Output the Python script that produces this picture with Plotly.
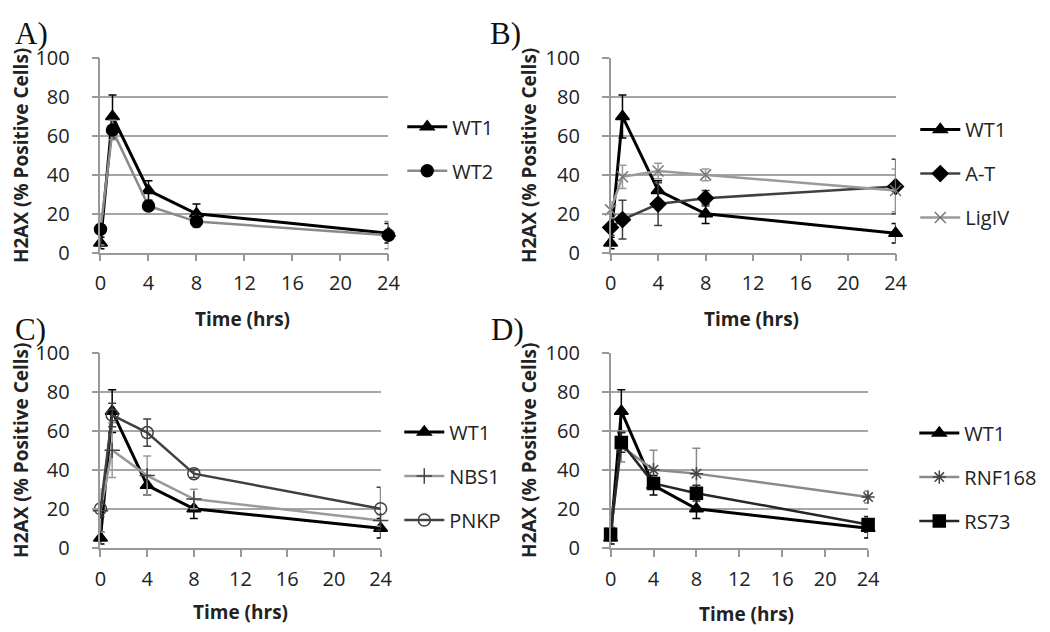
import plotly.graph_objects as go

times = [0, 1, 4, 8, 24]
x_ticks = [0, 4, 8, 12, 16, 20, 24]
y_ticks = [0, 20, 40, 60, 80, 100]

wt1 = [5, 70, 32, 20, 10]
wt1_err = [3, 11, 5, 5, 5]
wt2 = [12, 63, 24, 16, 9]
wt2_err = [8, 5, 2, 3, 7]
at = [13, 17, 25, 28, 34]
at_err = [4, 10, 11, 4, 14]
ligiv = [22, 39, 42, 40, 32]
ligiv_err = [4, 6, 4, 3, 11]
nbs1 = [19, 50, 37, 25, 14]
nbs1_err = [11, 14, 10, 5, 3]
pnkp = [20, 68, 59, 38, 20]
pnkp_err = [4, 6, 7, 2, 11]
rnf168 = [8, 52, 40, 38, 26]
rnf168_err = [3, 8, 10, 13, 3]
rs73 = [7, 54, 33, 28, 12]
rs73_err = [3, 5, 3, 4, 4]

W, H = 1050, 632
FONT = "Open Sans"

def px(v):
    return v / W

def py(v):
    return 1 - v / H

# panel pixel boxes: (x0, x1, ytop, ybottom)
panels = {
    "A": (88, 381, 37.7, 241),
    "B": (607, 897, 37.7, 241),
    "C": (88, 373, 345.3, 549.3),
    "D": (607, 869, 345.3, 549.3),
}

fig = go.Figure()

def add(panel_idx, name, y, err, line_color, lw, symbol, msize, mcolor, mline=None):
    sfx = "" if panel_idx == 1 else str(panel_idx)
    fig.add_trace(go.Scatter(
        x=times, y=y, name=name, mode="lines+markers",
        xaxis="x" + sfx, yaxis="y" + sfx,
        legend="legend" + sfx, legendgroup=name + sfx,
        line=dict(color=line_color, width=lw),
        marker=dict(symbol=symbol, size=msize, color=mcolor,
                    line=dict(color=mline or mcolor, width=1.5)),
        error_y=dict(type="data", array=err, visible=True,
                     color=line_color, thickness=1.5, width=4),
        cliponaxis=False,
    ))

# Panel A
add(1, "WT1", wt1, wt1_err, "#000000", 3, "triangle-up", 12, "#000000")
add(1, "WT2", wt2, wt2_err, "#8a8a8a", 2.5, "circle", 12, "#000000")
# Panel B
add(2, "WT1", wt1, wt1_err, "#000000", 3, "triangle-up", 12, "#000000")
add(2, "A-T", at, at_err, "#404040", 2.5, "diamond", 12, "#000000")
add(2, "LigIV", ligiv, ligiv_err, "#9a9a9a", 2.5, "x-thin", 11, "#777777", "#777777")
# Panel C
add(3, "WT1", wt1, wt1_err, "#000000", 3, "triangle-up", 12, "#000000")
add(3, "NBS1", nbs1, nbs1_err, "#9a9a9a", 2.5, "cross-thin", 11, "#444444", "#444444")
add(3, "PNKP", pnkp, pnkp_err, "#404040", 2.5, "circle-open", 12, "#404040", "#404040")
# Panel D
add(4, "WT1", wt1, wt1_err, "#000000", 3, "triangle-up", 12, "#000000")
add(4, "RNF168", rnf168, rnf168_err, "#8a8a8a", 2.5, "asterisk-open", 11, "#444444", "#444444")
add(4, "RS73", rs73, rs73_err, "#262626", 2.5, "square", 12, "#000000")

axis_font = dict(family=FONT, size=20, color="#222222")
layout = {}
legend_pos = {"A": (395, 89), "B": (917, 92), "C": (392, 408), "D": (916, 409)}
for i, key in enumerate(["A", "B", "C", "D"], start=1):
    sfx = "" if i == 1 else str(i)
    x0, x1, yt, yb = panels[key]
    layout["xaxis" + sfx] = dict(
        domain=[px(x0), px(x1)], range=[0, 24], anchor="y" + sfx,
        tickvals=x_ticks, ticks="outside", ticklen=7, tickcolor="#999999",
        tickwidth=1.5, showline=True, linecolor="#999999", linewidth=1.5,
        showgrid=False, zeroline=False, tickfont=axis_font,
        ticklabelstandoff=5,
    )
    layout["yaxis" + sfx] = dict(
        domain=[py(yb), py(yt)], range=[0, 100], anchor="x" + sfx,
        tickvals=y_ticks, ticks="outside", ticklen=7, tickcolor="#999999",
        tickwidth=1.5, showline=True, linecolor="#999999", linewidth=1.5,
        showgrid=True, gridcolor="#a6a6a6", gridwidth=1.5, zeroline=False,
        tickfont=axis_font, ticklabelstandoff=18,
        title=dict(text="<b>H2AX (% Positive Cells)</b>", standoff=4,
                   font=dict(family=FONT, size=19, color="#222222")),
    )
    lx, ly = legend_pos[key]
    layout["legend" + sfx] = dict(
        x=px(lx), y=py(ly), xanchor="left", yanchor="top",
        font=dict(family=FONT, size=20, color="#222222"),
        bgcolor="rgba(0,0,0,0)", tracegroupgap=15, itemwidth=40,
        traceorder="grouped",
    )

fig.update_layout(
    width=W, height=H, margin=dict(l=0, r=0, t=0, b=0),
    paper_bgcolor="white", plot_bgcolor="white",
    showlegend=True, **layout,
)

# x titles and panel letters as annotations
xtitle_pos = {"A": (232, 310), "B": (750, 310), "C": (230, 616), "D": (745, 618)}
letter_pos = {"A": (0, 12), "B": (483, 12), "C": (0, 321), "D": (484, 321)}
for key in ["A", "B", "C", "D"]:
    tx, ty = xtitle_pos[key]
    fig.add_annotation(x=px(tx), y=py(ty), xref="paper", yref="paper",
                       text="<b>Time (hrs)</b>", showarrow=False,
                       font=dict(family=FONT, size=19, color="#222222"),
                       xanchor="center", yanchor="middle")
    tx, ty = letter_pos[key]
    fig.add_annotation(x=px(tx), y=py(ty), xref="paper", yref="paper",
                       text=key + ")", showarrow=False, borderpad=0,
                       font=dict(family="Liberation Serif", size=31, color="#111111"),
                       xanchor="left", yanchor="middle")

fig.write_html("out.html")
